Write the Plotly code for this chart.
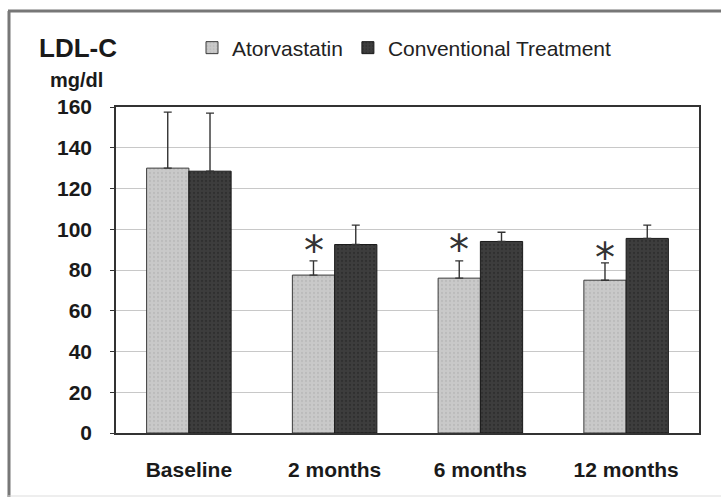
import plotly.graph_objects as go

categories = ["Baseline", "2 months", "6 months", "12 months"]
atorvastatin = [130, 77.5, 76, 75]
atorvastatin_err = [27.5, 7, 8.5, 8.5]
conventional = [128.5, 92.5, 94, 95.5]
conventional_err = [28.5, 9.5, 4.5, 6.5]
significant = [False, True, True, True]
asterisk_y = [None, 92, 92.5, 88.5]
y_ticks = [0, 20, 40, 60, 80, 100, 120, 140, 160]

W, H = 721, 498
L, R, T, B = 116, 22, 107, 65
pw, ph = W - L - R, H - T - B

def px(x):
    return (x - L) / pw

def py(y):
    return (H - B - y) / ph

FONT = "Liberation Sans, Arial, Helvetica, sans-serif"

fig = go.Figure()
fig.add_trace(go.Bar(
    name="Atorvastatin", x=categories, y=atorvastatin,
    marker=dict(color="#c6c6c6", line=dict(color="#3a3a3a", width=1),
                pattern=dict(shape=".", fgcolor="#adadad", bgcolor="#c9c9c9", size=4, solidity=0.25)),
    error_y=dict(type="data", symmetric=False, array=atorvastatin_err,
                 arrayminus=[0] * 4, color="#333333", thickness=1.4, width=4),
))
fig.add_trace(go.Bar(
    name="Conventional Treatment", x=categories, y=conventional,
    marker=dict(color="#363636", line=dict(color="#1a1a1a", width=1),
                pattern=dict(shape=".", fgcolor="#222222", bgcolor="#3d3d3d", size=4, solidity=0.25)),
    error_y=dict(type="data", symmetric=False, array=conventional_err,
                 arrayminus=[0] * 4, color="#333333", thickness=1.4, width=4),
))

annotations = []
for c, s, ay in zip(categories, significant, asterisk_y):
    if s:
        annotations.append(dict(x=c, y=ay, xref="x", yref="y", text="*", showarrow=False,
                                xshift=-21, yshift=-5, yanchor="middle",
                                font=dict(family="DejaVu Sans, sans-serif", size=40, color="#333333")))
annotations.append(dict(x=px(37), y=py(48), xref="paper", yref="paper", text="<b>LDL-C</b>",
                        showarrow=False, xanchor="left", yanchor="middle",
                        font=dict(family=FONT, size=26, color="#1a1a1a")))
annotations.append(dict(x=px(76), y=py(80), xref="paper", yref="paper", text="<b>mg/dl</b>",
                        showarrow=False, xanchor="center", yanchor="middle",
                        font=dict(family=FONT, size=20, color="#1a1a1a")))

fig.update_layout(
    width=W, height=H,
    margin=dict(l=L, r=R, t=T, b=B),
    paper_bgcolor="white", plot_bgcolor="white",
    barmode="group", bargap=0.42, bargroupgap=0,
    showlegend=True,
    legend=dict(orientation="h", x=px(192), y=py(48), xanchor="left", yanchor="middle",
                font=dict(family=FONT, size=21, color="#222222"), bgcolor="rgba(0,0,0,0)",
                itemwidth=30, tracegroupgap=0),
    annotations=annotations,
    shapes=[
        dict(type="line", xref="paper", yref="paper", x0=px(8), x1=px(740), y0=py(11), y1=py(11),
             line=dict(color="#777777", width=3), layer="below"),
        dict(type="line", xref="paper", yref="paper", x0=px(9), x1=px(9), y0=py(11), y1=py(497),
             line=dict(color="#777777", width=3), layer="below"),
        dict(type="line", xref="paper", yref="paper", x0=px(8), x1=px(740), y0=py(496), y1=py(496),
             line=dict(color="#dddddd", width=1), layer="below"),
    ],
)
fig.update_xaxes(
    type="category", showgrid=False, showline=True, linecolor="#333333", linewidth=1.5,
    mirror=True, ticks="", ticklabelstandoff=17,
    tickfont=dict(family=FONT, size=21, color="#1a1a1a", weight="bold"),
)
fig.update_yaxes(
    range=[0, 160], tickvals=y_ticks, showgrid=True, gridcolor="#c8c8c8", gridwidth=1,
    showline=True, linecolor="#333333", linewidth=1.5, mirror=True,
    ticks="outside", ticklen=4, tickcolor="#333333", ticklabelstandoff=14,
    tickfont=dict(family=FONT, size=21, color="#1a1a1a", weight="bold"),
    zeroline=False,
)

fig.write_html("out.html")
